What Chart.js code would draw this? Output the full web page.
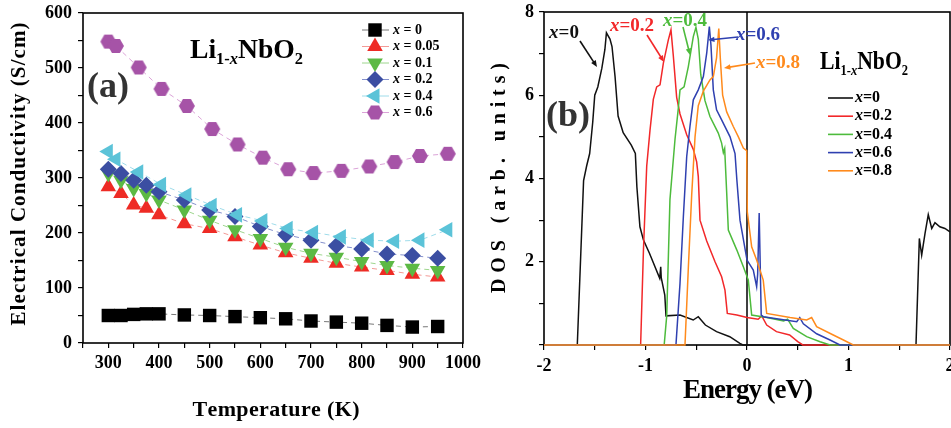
<!DOCTYPE html>
<html>
<head>
<meta charset="utf-8">
<script src="https://cdn.jsdelivr.net/npm/chart.js@4.4.0/dist/chart.umd.min.js"></script>
<style>
  html, body { margin: 0; padding: 0; background: #fff; }
  #wrap { position: relative; width: 951px; height: 428px; overflow: hidden; }
  #chartA { position: absolute; left: 0; top: 0; }
  #chartB { position: absolute; left: 480px; top: 0; }
</style>
</head>
<body>
<div id="wrap">
  <canvas id="chartA" width="500" height="428" style="width:500px;height:428px"></canvas>
  <canvas id="chartB" width="471" height="428" style="width:471px;height:428px"></canvas>
</div>
<script>
// ---- panel (a): conductivity vs temperature ----
const compositionsA = ['0', '0.05', '0.1', '0.2', '0.4', '0.6'];
const tempsA = [300, 325, 350, 375, 400, 450, 500, 550, 600, 650, 700, 750, 800, 850, 900, 950];
const tempsB = [300, 315, 360, 405, 455, 505, 555, 605, 655, 705, 760, 815, 865, 915, 970];
const sigmaX0   = [50, 50, 52, 53, 53, 51, 50, 48, 46, 44, 40, 38, 36, 32, 29, 30];
const sigmaX005 = [284, 272, 251, 245, 233, 217, 208, 193, 178, 164, 154, 145, 138, 132, 125, 120];
const sigmaX01  = [308, 296, 281, 272, 260, 242, 223, 206, 190, 174, 163, 156, 148, 141, 136, 132];
const sigmaX02  = [316, 308, 296, 287, 275, 260, 242, 230, 212, 197, 187, 177, 171, 162, 159, 154];
const sigmaX04  = [348, 334, 311, 288, 269, 250, 233, 222, 208, 201, 193, 187, 185, 187, 206];
const sigmaX06  = [548, 540, 501, 462, 431, 389, 361, 337, 316, 309, 313, 321, 329, 340, 344];

// ---- panel (b): density of states vs energy ----
const compositionsB = ['0', '0.2', '0.4', '0.6', '0.8'];
const dosE0 = [-2, -1.672, -1.61, -1.58, -1.55, -1.52, -1.50, -1.47, -1.43, -1.40, -1.385, -1.35, -1.33, -1.30, -1.27, -1.22, -1.14, -1.10, -1.085, -1.055, -1.02, -0.96, -0.86, -0.85, -0.845, -0.81, -0.798, -0.66, -0.53, -0.48, -0.41, -0.30, -0.17, -0.07, -0.04, 1.665, 1.698, 1.721, 1.754, 1.786, 1.82, 1.852, 1.90, 1.95, 2.0];
const dosD0 = [0, 0, 3.95, 4.3, 4.6, 5.35, 6.0, 6.2, 6.65, 7.1, 7.5, 7.35, 7.17, 6.45, 5.5, 5.1, 4.8, 4.6, 3.8, 2.84, 2.52, 2.2, 1.6, 1.88, 1.62, 1.2, 0.7, 0.72, 0.6, 0.68, 0.48, 0.32, 0.2, 0.04, 0, 0, 2.56, 2.16, 2.68, 3.13, 2.8, 2.94, 2.84, 2.80, 2.72];
const dosE2 = [-2, -1.048, -1.02, -0.988, -0.956, -0.923, -0.89, -0.857, -0.824, -0.775, -0.749, -0.726, -0.693, -0.66, -0.594, -0.529, -0.496, -0.48, -0.463, -0.397, -0.315, -0.25, -0.217, -0.194, -0.1, 0, 0.11, 0.145, 0.194, 0.29, 0.42, 0.5, 0.55, 2];
const dosD2 = [0, 0, 2.3, 4.3, 5.15, 5.9, 6.2, 6.25, 6.77, 7.33, 7.57, 6.95, 5.95, 5.55, 5.05, 4.7, 4.4, 4.05, 3.0, 2.5, 2.0, 1.64, 1.32, 0.76, 0.72, 0.66, 0.62, 0.7, 0.48, 0.32, 0.24, 0.08, 0, 0];
const dosE4 = [-2, -0.816, -0.791, -0.759, -0.709, -0.677, -0.66, -0.62, -0.578, -0.529, -0.503, -0.48, -0.456, -0.414, -0.365, -0.283, -0.25, -0.233, -0.22, -0.2, -0.184, -0.1, -0.036, 0.013, 0.046, 0.194, 0.36, 0.40, 0.456, 0.588, 0.72, 0.818, 2];
const dosD4 = [0, 0, 0.7, 3.5, 4.95, 5.68, 6.13, 6.2, 6.69, 7.41, 7.63, 7.35, 6.5, 5.87, 5.49, 5.09, 4.85, 4.62, 4.72, 3.65, 2.76, 2.28, 1.88, 1.56, 0.72, 0.66, 0.58, 0.62, 0.4, 0.2, 0.08, 0, 0];
const dosE6 = [-2, -0.70, -0.66, -0.627, -0.594, -0.562, -0.529, -0.48, -0.43, -0.397, -0.371, -0.355, -0.332, -0.3, -0.25, -0.167, -0.118, -0.1, -0.069, 0, 0.062, 0.095, 0.105, 0.12, 0.14, 0.16, 0.49, 0.52, 0.555, 0.686, 0.818, 0.916, 2];
const dosD6 = [0, 0, 1.48, 3.08, 4.53, 5.25, 5.89, 6.13, 6.45, 7.01, 7.65, 7.2, 6.13, 5.65, 5.41, 5.0, 4.6, 3.97, 3.0, 2.04, 1.8, 1.4, 1.7, 3.17, 0.72, 0.68, 0.56, 0.66, 0.51, 0.27, 0.12, 0, 0];
const dosE8 = [-2, -0.611, -0.578, -0.545, -0.512, -0.48, -0.43, -0.365, -0.332, -0.3, -0.278, -0.262, -0.24, -0.2, -0.135, -0.085, -0.036, -0.003, 0.003, 0.046, 0.095, 0.16, 0.194, 0.424, 0.588, 0.637, 0.686, 0.85, 0.95, 1.047, 2];
const dosD8 = [0, 0, 1.85, 3.6, 5.0, 5.75, 6.1, 6.37, 6.45, 6.9, 7.6, 6.85, 6.0, 5.6, 5.25, 5.0, 4.73, 4.67, 3.2, 2.36, 2.04, 1.56, 0.76, 0.66, 0.6, 0.66, 0.44, 0.24, 0.12, 0, 0];

const serif = "'Liberation Serif', 'DejaVu Serif', serif";
const toPoints = (xs, ys) => xs.map((x, i) => ({ x: x, y: ys[i] }));

function hexMarker(color, r) {
  const c = document.createElement('canvas');
  c.width = c.height = Math.ceil(2 * r + 2);
  const g = c.getContext('2d');
  g.fillStyle = color;
  g.beginPath();
  for (let k = 0; k < 6; k++) {
    const a = Math.PI / 3 * k;
    const px = c.width / 2 + r * Math.cos(a), py = c.height / 2 + r * Math.sin(a);
    if (k) g.lineTo(px, py); else g.moveTo(px, py);
  }
  g.closePath();
  g.fill();
  return c;
}

// text with mixed fonts; align 'left' or 'center'
function drawRuns(ctx, runs, x, y, opts) {
  opts = opts || {};
  ctx.save();
  ctx.textBaseline = opts.baseline || 'alphabetic';
  let w = 0;
  runs.forEach(r => { ctx.font = r.font; w += ctx.measureText(r.t).width; });
  const sx = opts.width ? opts.width / w : 1;
  ctx.translate(x, y);
  ctx.scale(sx, 1);
  let cx = opts.center ? -w / 2 : 0;
  runs.forEach(r => {
    ctx.font = r.font;
    ctx.fillStyle = r.color || opts.color || '#000';
    ctx.fillText(r.t, cx, r.dy || 0);
    cx += ctx.measureText(r.t).width;
  });
  ctx.restore();
}

function drawSpaced(ctx, text, cx, cy, width, font, rot) {
  ctx.save();
  ctx.font = font;
  ctx.fillStyle = '#000';
  ctx.textBaseline = 'middle';
  ctx.translate(cx, cy);
  if (rot) ctx.rotate(rot);
  const chars = [...text];
  const ws = chars.map(c => ctx.measureText(c).width);
  const natural = ws.reduce((a, b) => a + b, 0);
  const gap = (width - natural) / (chars.length - 1);
  let x = -width / 2;
  chars.forEach((c, i) => { ctx.fillText(c, x, 0); x += ws[i] + gap; });
  ctx.restore();
}

function formulaRuns(size) {
  const sub = Math.round(size * 0.58), dy = Math.round(size * 0.24);
  return [
    { t: 'Li', font: `bold ${size}px ${serif}` },
    { t: '1-', font: `bold ${sub}px ${serif}`, dy: dy },
    { t: 'x', font: `italic bold ${sub}px ${serif}`, dy: dy },
    { t: 'NbO', font: `bold ${size}px ${serif}` },
    { t: '2', font: `bold ${sub}px ${serif}`, dy: dy }
  ];
}

function xLabelRuns(text, size, color) {
  return [
    { t: 'x', font: `italic bold ${size}px ${serif}`, color: color },
    { t: text, font: `bold ${size}px ${serif}`, color: color }
  ];
}

function arrow(ctx, x1, y1, x2, y2, color) {
  const ang = Math.atan2(y2 - y1, x2 - x1), h = 7;
  ctx.save();
  ctx.strokeStyle = color; ctx.fillStyle = color; ctx.lineWidth = 1.6;
  ctx.beginPath(); ctx.moveTo(x1, y1); ctx.lineTo(x2 - Math.cos(ang) * h * 0.8, y2 - Math.sin(ang) * h * 0.8); ctx.stroke();
  ctx.beginPath();
  ctx.moveTo(x2, y2);
  ctx.lineTo(x2 - h * Math.cos(ang - 0.4), y2 - h * Math.sin(ang - 0.4));
  ctx.lineTo(x2 - h * Math.cos(ang + 0.4), y2 - h * Math.sin(ang + 0.4));
  ctx.closePath(); ctx.fill();
  ctx.restore();
}

function frame(chart) {
  const ctx = chart.ctx, a = chart.chartArea;
  ctx.save();
  ctx.strokeStyle = '#000'; ctx.lineWidth = 1.6;
  ctx.strokeRect(a.left, a.top, a.right - a.left, a.bottom - a.top);
  ctx.restore();
}

const tickFont = { family: serif, size: 18, weight: 'bold' };

// ---------------- chart A ----------------
const markerA = ['#000000', '#ee2b25', '#5cb944', '#3b4ea2', '#5bc3d8', '#a653a7'];
const lineA = ['#777777', '#f39a96', '#9ed68e', '#8490cc', '#9fdcea', '#dba3d8'];
const styleA = ['rect', 'triangle', 'triangle', 'rectRot', 'triangle', hexMarker('#a653a7', 8)];
const rotA = [0, 0, 180, 0, 270, 0];
const radA = [9.5, 9, 9, 8.5, 9, 8];
const xsA = [tempsA, tempsA, tempsA, tempsA, tempsB, tempsB];
const ysA = [sigmaX0, sigmaX005, sigmaX01, sigmaX02, sigmaX04, sigmaX06];

const panelAExtras = {
  id: 'panelAExtras',
  afterDraw(chart) {
    const ctx = chart.ctx;
    frame(chart);
    drawSpaced(ctx, 'Temperature (K)', 276, 410, 167, `bold 22px ${serif}`, 0);
    drawSpaced(ctx, 'Electrical Conductivity (S/cm)', 20, 174, 303, `bold 21px ${serif}`, -Math.PI / 2);
    ctx.save();
    ctx.font = `bold 36px ${serif}`; ctx.fillStyle = '#333'; ctx.textAlign = 'center'; ctx.textBaseline = 'middle';
    ctx.fillText('(a)', 108, 88);
    ctx.restore();
    drawRuns(ctx, formulaRuns(27), 190, 58, { width: 113 });
    chart.data.datasets.forEach((ds, i) => {
      const y = 30 + i * 16.5;
      ctx.save();
      ctx.strokeStyle = ds.borderColor; ctx.lineWidth = 1;
      ctx.beginPath(); ctx.moveTo(362, y); ctx.lineTo(389, y); ctx.stroke();
      ctx.fillStyle = ds.pointBackgroundColor;
      Chart.helpers.drawPoint(ctx, { pointStyle: ds.pointStyle, rotation: ds.pointRotation, radius: ds.pointRadius, borderWidth: 0 }, 375, y);
      ctx.restore();
      drawRuns(ctx, xLabelRuns(' = ' + compositionsA[i], 14), 393, y, { baseline: 'middle' });
    });
  }
};

new Chart(document.getElementById('chartA'), {
  type: 'scatter',
  data: {
    datasets: compositionsA.map((c, i) => ({
      label: 'x = ' + c,
      data: toPoints(xsA[i], ysA[i]),
      showLine: true,
      borderColor: lineA[i],
      borderWidth: 1,
      borderDash: [5, 4],
      pointStyle: styleA[i],
      pointRotation: rotA[i],
      pointRadius: radA[i],
      pointBackgroundColor: markerA[i],
      pointBorderWidth: 0,
      order: compositionsA.length - 1 - i
    }))
  },
  options: {
    responsive: false,
    devicePixelRatio: 1,
    animation: false,
    layout: { padding: { left: 0, right: 37, top: 13, bottom: 0 } },
    plugins: { legend: { display: false }, tooltip: { enabled: false } },
    scales: {
      x: {
        type: 'linear', min: 250, max: 1000,
        ticks: { stepSize: 50, autoSkip: false, maxRotation: 0, color: '#000', font: tickFont, padding: 5,
          callback: v => (v % 100 === 0 && v >= 300) ? v : '' },
        grid: { drawOnChartArea: false, color: '#000', tickLength: 5, lineWidth: 1.2 },
        border: { display: false },
        afterFit: s => { s.height = 85; s.paddingLeft = 0; s.paddingRight = 0; }
      },
      y: {
        min: 0, max: 600,
        ticks: { stepSize: 50, autoSkip: false, color: '#000', font: tickFont, padding: 6,
          callback: v => v % 100 === 0 ? v : '' },
        grid: { drawOnChartArea: false, color: '#000', tickLength: 5, lineWidth: 1.2 },
        border: { display: false },
        afterFit: s => { s.width = 83; s.paddingTop = 0; s.paddingBottom = 0; }
      }
    }
  },
  plugins: [panelAExtras]
});

// ---------------- chart B ----------------
const colorsB = ['#111111', '#f2282a', '#4dbb3c', '#2f40b0', '#ff8a1c'];
const xsB = [dosE0, dosE2, dosE4, dosE6, dosE8];
const ysB = [dosD0, dosD2, dosD4, dosD6, dosD8];
// label centre, arrow start, arrow end (canvas px)
const notesB = [
  [84, 33, 100, 41, 117, 67],
  [152, 26, 167, 35, 184, 62],
  [205, 21, 203, 27, 210, 55],
  [278, 35, 258, 37, 228, 40],
  [298, 63, 275, 63, 244, 68]
];

const panelBExtras = {
  id: 'panelBExtras',
  beforeDatasetsDraw(chart) {
    const ctx = chart.ctx, a = chart.chartArea;
    const x0 = chart.scales.x.getPixelForValue(0);
    frame(chart);
    ctx.save();
    ctx.strokeStyle = '#000'; ctx.lineWidth = 1.5;
    ctx.beginPath(); ctx.moveTo(x0, a.top); ctx.lineTo(x0, a.bottom); ctx.stroke();
    ctx.restore();
  },
  afterDraw(chart) {
    const ctx = chart.ctx;
    drawSpaced(ctx, 'Energy (eV)', 268, 391, 130, `bold 27px ${serif}`, 0);
    drawSpaced(ctx, 'DOS (arb. units)', 20, 178, 230, `bold 20px ${serif}`, -Math.PI / 2);
    ctx.save();
    ctx.font = `bold 36px ${serif}`; ctx.fillStyle = '#333'; ctx.textAlign = 'center'; ctx.textBaseline = 'middle';
    ctx.fillText('(b)', 88, 117);
    ctx.restore();
    drawRuns(ctx, formulaRuns(26), 340, 69, { width: 88 });
    notesB.forEach((n, i) => {
      drawRuns(ctx, xLabelRuns('=' + compositionsB[i], 19, colorsB[i]), n[0], n[1], { center: true, baseline: 'middle' });
      arrow(ctx, n[2], n[3], n[4], n[5], colorsB[i]);
    });
    chart.data.datasets.forEach((ds, i) => {
      const y = 98 + i * 18.2;
      ctx.save();
      ctx.strokeStyle = ds.borderColor; ctx.lineWidth = 1.6;
      ctx.beginPath(); ctx.moveTo(348, y); ctx.lineTo(373, y); ctx.stroke();
      ctx.restore();
      drawRuns(ctx, xLabelRuns('=' + compositionsB[i], 16), 375, y, { baseline: 'middle' });
    });
  }
};

new Chart(document.getElementById('chartB'), {
  type: 'scatter',
  data: {
    datasets: compositionsB.map((c, i) => ({
      label: 'x=' + c,
      data: toPoints(xsB[i], ysB[i]),
      showLine: true,
      borderColor: colorsB[i],
      borderWidth: 1.5,
      pointRadius: 0,
      clip: 3,
      order: compositionsB.length - 1 - i
    }))
  },
  options: {
    responsive: false,
    devicePixelRatio: 1,
    animation: false,
    layout: { padding: { left: 0, right: 1, top: 12, bottom: 0 } },
    plugins: { legend: { display: false }, tooltip: { enabled: false } },
    scales: {
      x: {
        type: 'linear', min: -2, max: 2,
        ticks: { stepSize: 0.5, autoSkip: false, maxRotation: 0, color: '#000', font: tickFont, padding: 6,
          callback: v => Number.isInteger(v) ? v : '' },
        grid: { drawOnChartArea: false, color: '#000', tickLength: 5, lineWidth: 1.2 },
        border: { display: false },
        afterFit: s => { s.height = 83; s.paddingLeft = 0; s.paddingRight = 0; }
      },
      y: {
        min: 0, max: 8,
        ticks: { stepSize: 1, autoSkip: false, color: '#000', font: tickFont, padding: 5,
          callback: v => (v > 0 && v % 2 === 0) ? v : '' },
        grid: { drawOnChartArea: false, color: '#000', tickLength: 5, lineWidth: 1.2 },
        border: { display: false },
        afterFit: s => { s.width = 64; s.paddingTop = 0; s.paddingBottom = 0; }
      }
    }
  },
  plugins: [panelBExtras]
});
</script>
</body>
</html>
